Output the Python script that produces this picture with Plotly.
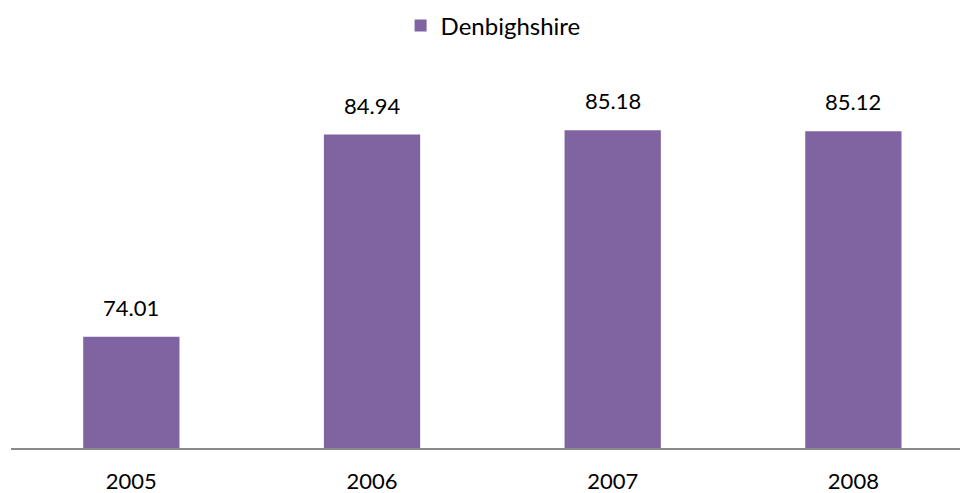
import plotly.graph_objects as go

years = ["2005", "2006", "2007", "2008"]
values = [74.01, 84.94, 85.18, 85.12]
labels = ["74.01", "84.94", "85.18", "85.12"]
series_name = "Denbighshire"

FONT = "Lato"
PURPLE = "#8064A2"

fig = go.Figure()
fig.add_trace(go.Bar(
    x=years, y=values, name=series_name,
    marker=dict(color=PURPLE, line=dict(width=0)),
    width=0.4, showlegend=True,
))

for i, (v, t) in enumerate(zip(values, labels)):
    fig.add_annotation(x=i, y=v, text=t, showarrow=False,
                       xref="x", yref="y",
                       yanchor="bottom", yshift=14,
                       font=dict(family=FONT, size=22, color="#000000"))

fig.update_layout(
    width=960, height=493,
    margin=dict(l=11, r=0, t=78, b=45, autoexpand=False),
    paper_bgcolor="white", plot_bgcolor="white",
    font=dict(family=FONT, size=22, color="#000000"),
    showlegend=True,
    legend=dict(orientation="h", x=0.508, xanchor="center", y=1.141, yanchor="middle",
                font=dict(family=FONT, size=24, color="#000000")),
    xaxis=dict(type="category", range=[-0.5, 3.443], showgrid=False, zeroline=False,
               showline=True, linecolor="#898989", linewidth=2,
               ticks="outside", ticklen=13, tickcolor="rgba(0,0,0,0)",
               tickfont=dict(family=FONT, size=22)),
    yaxis=dict(range=[68, 88], visible=False, showgrid=False, zeroline=False),
)

fig.write_html("out.html", post_script="document.body.style.margin='0';",
               config={"displayModeBar": False})
